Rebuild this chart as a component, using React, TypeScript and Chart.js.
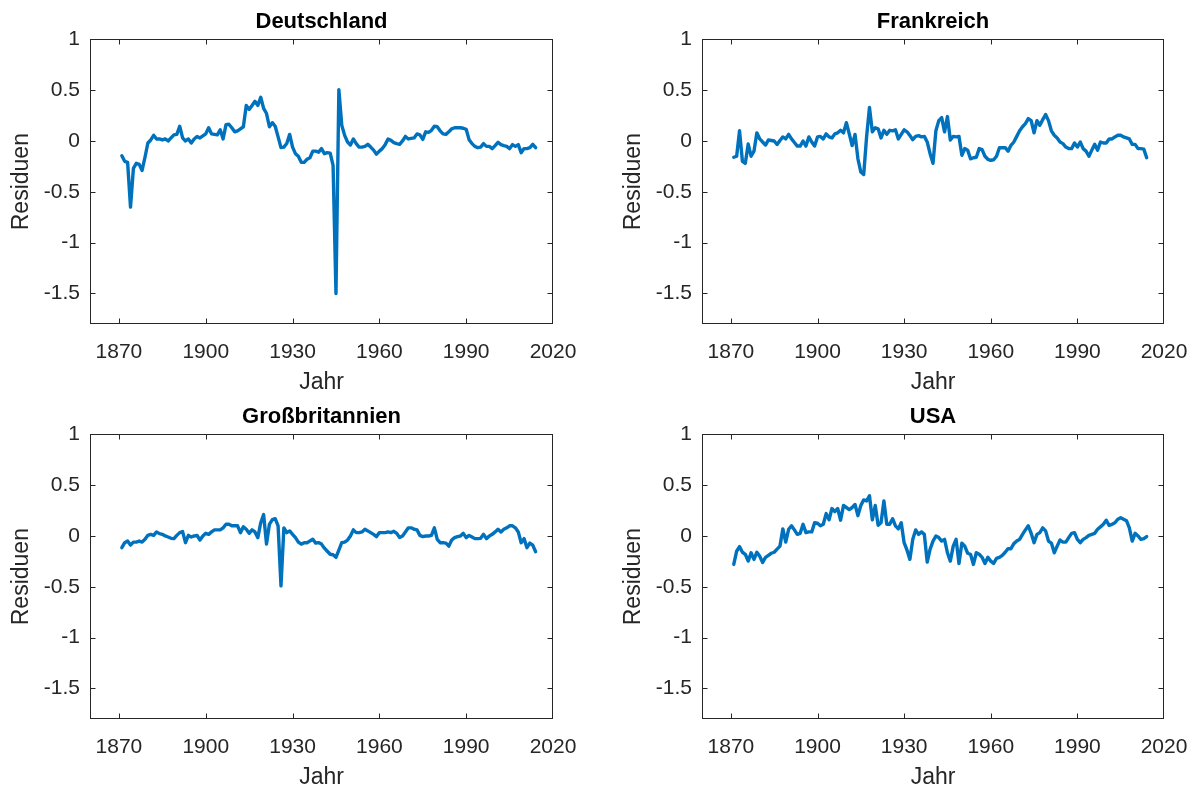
import React, { useEffect, useRef } from "react";
import { Chart, registerables } from "chart.js";

Chart.register(...registerables);

// Years 1871 … 2014 (annual observations)
const years: number[] = [];
for (let yr = 1871; yr <= 2014; yr++) years.push(yr);

const xTicks = [1870, 1900, 1930, 1960, 1990, 2020];
const yTicks = [-1.5, -1, -0.5, 0, 0.5, 1];

const deutschland = [
  -0.145, -0.2, -0.21, -0.65, -0.27, -0.22, -0.23, -0.29, -0.16, -0.02,
  0.01, 0.056, 0.02, 0.02, 0.01, 0.02, 0.0, 0.03, 0.06, 0.065,
  0.145, 0.03, 0.0, 0.02, -0.02, 0.02, 0.045, 0.03, 0.05, 0.07,
  0.13, 0.07, 0.065, 0.06, 0.11, 0.02, 0.16, 0.165, 0.13, 0.09,
  0.1, 0.12, 0.14, 0.35, 0.31, 0.35, 0.39, 0.35, 0.43, 0.32,
  0.27, 0.14, 0.18, 0.145, 0.04, -0.065, -0.06, -0.025, 0.065, -0.06,
  -0.125, -0.15, -0.21, -0.21, -0.18, -0.165, -0.1, -0.1, -0.11, -0.075,
  -0.125, -0.115, -0.12, -0.24, -1.5, 0.505, 0.155, 0.055, -0.01, -0.04,
  0.02, -0.026, -0.06, -0.06, -0.053, -0.033, -0.06, -0.09, -0.13, -0.1,
  -0.075, -0.036, 0.02, 0.006, -0.016, -0.026, -0.033, 0.0, 0.045, 0.02,
  0.026, 0.03, 0.07, 0.06, 0.016, 0.09, 0.085, 0.105, 0.145, 0.14,
  0.1, 0.07, 0.065, 0.09, 0.12, 0.13, 0.13, 0.13, 0.125, 0.115,
  0.013, -0.026, -0.053, -0.066, -0.06, -0.026, -0.053, -0.053, -0.075, -0.046,
  -0.013, -0.036, -0.046, -0.053, -0.075, -0.036, -0.053, -0.036, -0.115, -0.075,
  -0.075, -0.066, -0.033, -0.066,
];

const frankreich = [
  -0.16, -0.15, 0.1, -0.2, -0.22, -0.03, -0.15, -0.1, 0.08, 0.02,
  -0.01, -0.04, 0.01, 0.005, 0.0, -0.035, 0.005, 0.04, 0.02, 0.065,
  0.02, -0.015, -0.05, -0.05, 0.0, -0.05, 0.04, -0.01, -0.05, 0.04,
  0.045, 0.02, 0.07, 0.04, 0.03, 0.07, 0.08, 0.105, 0.08, 0.18,
  0.07, -0.045, 0.065, -0.175, -0.305, -0.33, 0.04, 0.33, 0.09, 0.13,
  0.12, 0.03, 0.105, 0.065, 0.105, 0.1, 0.11, 0.02, 0.065, 0.11,
  0.09, 0.053, 0.013, 0.045, 0.053, 0.04, 0.045, -0.01, -0.125, -0.22,
  0.1, 0.2, 0.23, 0.09, 0.24, 0.01, 0.045, 0.04, 0.045, -0.14,
  -0.075, -0.09, -0.175, -0.165, -0.16, -0.075, -0.085, -0.15, -0.18, -0.19,
  -0.185, -0.15, -0.066, -0.066, -0.066, -0.1, -0.043, -0.01, 0.045, 0.1,
  0.14, 0.17, 0.22, 0.2, 0.08, 0.2, 0.155, 0.21, 0.26, 0.2,
  0.1, 0.056, 0.03, -0.01, -0.026, -0.06, -0.075, -0.075, -0.02, -0.06,
  -0.01, -0.075, -0.1, -0.15, -0.09, -0.033, -0.09, -0.01, -0.02, -0.02,
  0.02, 0.02, 0.04, 0.056, 0.056, 0.04, 0.03, 0.02, -0.033, -0.033,
  -0.075, -0.075, -0.08, -0.165,
];

const grossbritannien = [
  -0.115, -0.066, -0.05, -0.09, -0.06, -0.06, -0.05, -0.06, -0.033, 0.006,
  0.016, 0.006, 0.04, 0.023, 0.016, 0.0, -0.01, -0.023, -0.026, 0.006,
  0.033, 0.043, -0.066, 0.006, -0.01, 0.0, 0.006, -0.04, 0.0, 0.026,
  0.016, 0.04, 0.06, 0.06, 0.06, 0.08, 0.115, 0.115, 0.1, 0.1,
  0.1, 0.033, 0.09, 0.066, 0.026, 0.06, 0.04, -0.016, 0.13, 0.21,
  -0.08, 0.115, 0.16, 0.17, 0.1, -0.49, 0.08, 0.033, 0.05, 0.016,
  -0.016, -0.06, -0.08, -0.066, -0.066, -0.05, -0.033, -0.07, -0.065, -0.08,
  -0.12, -0.15, -0.18, -0.185, -0.21, -0.14, -0.066, -0.06, -0.04, 0.0,
  0.06, 0.033, 0.033, 0.04, 0.066, 0.05, 0.033, 0.016, -0.006, 0.033,
  0.033, 0.033, 0.04, 0.033, 0.046, 0.026, -0.016, 0.0, 0.04, 0.08,
  0.08, 0.066, 0.06, 0.006, -0.006, 0.0, 0.0, 0.006, 0.08, -0.033,
  -0.066, -0.066, -0.07, -0.1, -0.04, -0.016, -0.006, 0.0, 0.026, -0.016,
  0.006, -0.01, -0.026, -0.026, -0.023, 0.016, -0.026, 0.0, 0.016, 0.04,
  0.066, 0.04, 0.066, 0.08, 0.1, 0.1, 0.08, 0.04, -0.066, -0.026,
  -0.115, -0.07, -0.09, -0.155,
];

const usa = [
  -0.28, -0.15, -0.105, -0.16, -0.18, -0.247, -0.165, -0.23, -0.16, -0.2,
  -0.26, -0.21, -0.19, -0.17, -0.16, -0.13, -0.1, 0.07, -0.06, 0.066,
  0.1, 0.06, 0.016, 0.026, 0.115, 0.033, 0.04, 0.04, 0.13, 0.125,
  0.1, 0.115, 0.22, 0.16, 0.27, 0.24, 0.27, 0.155, 0.3, 0.28,
  0.26, 0.28, 0.31, 0.2, 0.3, 0.355, 0.345, 0.395, 0.16, 0.3,
  0.105, 0.13, 0.345, 0.115, 0.115, 0.17, 0.1, 0.07, 0.13, -0.066,
  -0.14, -0.23, -0.033, 0.06, 0.016, 0.04, 0.016, -0.256, -0.13, -0.05,
  0.0, -0.016, -0.05, -0.033, -0.165, -0.247, -0.1, -0.033, -0.27, -0.07,
  -0.1, -0.17, -0.18, -0.28, -0.165, -0.18, -0.21, -0.27, -0.21, -0.247,
  -0.27, -0.22, -0.21, -0.19, -0.16, -0.125, -0.125, -0.075, -0.05, -0.033,
  0.016, 0.06, 0.1, 0.026, -0.066, 0.016, 0.033, 0.08, 0.05, -0.05,
  -0.07, -0.165, -0.1, -0.04, -0.06, -0.06, -0.016, 0.026, 0.033, -0.033,
  -0.066, -0.033, -0.016, 0.006, 0.016, 0.026, 0.066, 0.09, 0.115, 0.155,
  0.105, 0.115, 0.13, 0.165, 0.18, 0.165, 0.15, 0.08, -0.05, 0.026,
  0.0, -0.033, -0.026, -0.006,
];

const FONT = "'Liberation Sans', Arial, Helvetica, sans-serif";
const AXIS_COLOR = "#262626";
const LINE_COLOR = "#0072BD";

const boxPlugin = {
  id: "matlabBox",
  afterDatasetsDraw(chart: any) {
    const { ctx, chartArea, scales } = chart;
    const { left, right, top, bottom } = chartArea;
    const xs = scales.x;
    const ys = scales.y;
    const L = Math.round(left) + 0.5;
    const R = Math.round(right) - 0.5;
    const T = Math.round(top) + 0.5;
    const B = Math.round(bottom) - 0.5;
    const tl = 5;
    ctx.save();
    ctx.strokeStyle = AXIS_COLOR;
    ctx.lineWidth = 1;
    ctx.beginPath();
    xTicks.forEach((v) => {
      const px = Math.min(R, Math.max(L, Math.round(xs.getPixelForValue(v)) + 0.5));
      ctx.moveTo(px, B);
      ctx.lineTo(px, B - tl);
      ctx.moveTo(px, T);
      ctx.lineTo(px, T + tl);
    });
    yTicks.forEach((v) => {
      const py = Math.min(B, Math.max(T, Math.round(ys.getPixelForValue(v)) + 0.5));
      ctx.moveTo(L, py);
      ctx.lineTo(L + tl, py);
      ctx.moveTo(R, py);
      ctx.lineTo(R - tl, py);
    });
    ctx.stroke();
    ctx.strokeRect(L, T, R - L, B - T);
    ctx.restore();
  },
};

type PanelProps = {
  title: string;
  values: number[];
  left: number;
  top: number;
  width: number;
  padLeft: number;
  padRight: number;
};

function Panel({ title, values, left, top, width, padLeft, padRight }: PanelProps) {
  const ref = useRef<HTMLCanvasElement>(null);
  useEffect(() => {
    if (!ref.current) return;
    const chart = new Chart(ref.current, {
      type: "line",
      data: {
        datasets: [
          {
            data: years.map((x, i) => ({ x, y: values[i] })),
            borderColor: LINE_COLOR,
            backgroundColor: LINE_COLOR,
            borderWidth: 3.4,
            pointRadius: 0,
            tension: 0,
            fill: false,
            borderJoinStyle: "round",
            borderCapStyle: "round",
          } as any,
        ],
      },
      options: {
        responsive: false,
        animation: false,
        events: [],
        layout: { padding: { left: padLeft, right: padRight, top: 0, bottom: 0 } },
        plugins: {
          legend: { display: false },
          tooltip: { enabled: false },
          title: {
            display: true,
            text: title,
            fullSize: false,
            color: "#000000",
            font: { family: FONT, size: 22, weight: "bold", lineHeight: 1.2 },
            padding: { top: 9, bottom: 3.9 },
          },
        },
        scales: {
          x: {
            type: "linear",
            min: 1860,
            max: 2020,
            afterBuildTicks: (s: any) => {
              s.ticks = xTicks.map((v) => ({ value: v }));
            },
            afterFit: (s: any) => {
              s.height = 72;
            },
            grid: { display: false, drawTicks: false },
            border: { display: false },
            ticks: {
              padding: 16,
              color: AXIS_COLOR,
              font: { family: FONT, size: 21, lineHeight: 1.2 },
              maxRotation: 0,
              autoSkip: false,
              callback: (v: any) => String(v),
            },
            title: {
              display: true,
              text: "Jahr",
              color: AXIS_COLOR,
              font: { family: FONT, size: 23, lineHeight: 1.2 },
              padding: { top: 0, bottom: 0 },
            },
          },
          y: {
            type: "linear",
            min: -1.8,
            max: 1,
            afterBuildTicks: (s: any) => {
              s.ticks = yTicks.map((v) => ({ value: v }));
            },
            afterFit: (s: any) => {
              s.width = 90;
            },
            grid: { display: false, drawTicks: false },
            border: { display: false },
            ticks: {
              padding: 10,
              color: AXIS_COLOR,
              font: { family: FONT, size: 21, lineHeight: 1.2 },
              autoSkip: false,
              callback: (v: any) => String(v),
            },
            title: {
              display: true,
              text: "Residuen",
              color: AXIS_COLOR,
              font: { family: FONT, size: 23, lineHeight: 1.2 },
              padding: { top: 8, bottom: 0 },
            },
          },
        },
      } as any,
      plugins: [boxPlugin],
    });
    return () => chart.destroy();
  }, [title, values, padLeft, padRight]);

  return (
    <canvas
      ref={ref}
      width={width}
      height={396}
      style={{ position: "absolute", left, top, width, height: 396 }}
    />
  );
}

export default function App() {
  return (
    <div
      style={{
        position: "absolute",
        left: 0,
        top: 0,
        width: 1200,
        height: 791,
        background: "#ffffff",
        overflow: "hidden",
      }}
    >
      <Panel title="Deutschland" values={deutschland} left={0} top={0} width={600} padLeft={0} padRight={47} />
      <Panel title="Frankreich" values={frankreich} left={600} top={0} width={610} padLeft={12} padRight={46} />
      <Panel title="Großbritannien" values={grossbritannien} left={0} top={395} width={600} padLeft={0} padRight={47} />
      <Panel title="USA" values={usa} left={600} top={395} width={610} padLeft={12} padRight={46} />
    </div>
  );
}
